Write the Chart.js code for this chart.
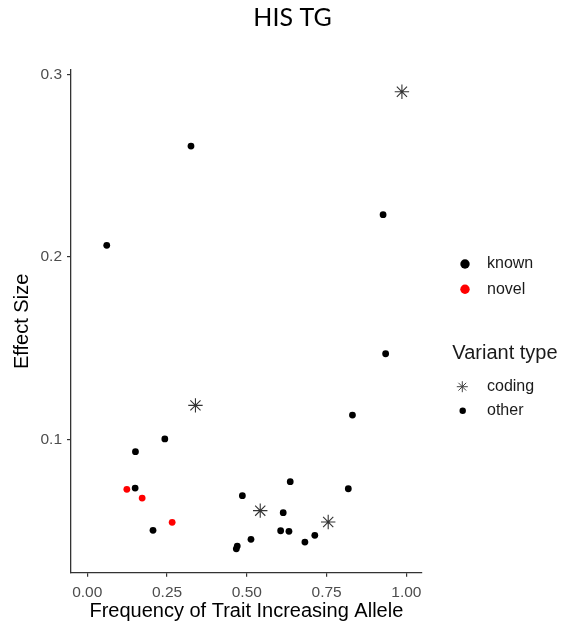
<!DOCTYPE html>
<html>
<head>
<meta charset="utf-8">
<script src="https://cdn.jsdelivr.net/npm/chart.js@4/dist/chart.umd.min.js"></script>
<style>
  body { margin: 0; background: #fff; }
  canvas { display: block; }
</style>
</head>
<body>
<canvas id="chart" width="571" height="629"></canvas>
<script>
// known variants, non-coding
const knownFreq = [0.325, 0.061, 0.927, 0.243, 0.151, 0.935, 0.831, 0.150, 0.206, 0.636,
                   0.818, 0.486, 0.614, 0.606, 0.632, 0.513, 0.713, 0.682, 0.467, 0.470];
const knownEffect = [0.2607, 0.2063, 0.2231, 0.1002, 0.0932, 0.1469, 0.1133, 0.0733, 0.0501, 0.0768,
                     0.0729, 0.0691, 0.0598, 0.0499, 0.0496, 0.0452, 0.0474, 0.0437, 0.0400, 0.0415];

// novel variants, non-coding
const novelFreq = [0.124, 0.172, 0.266];
const novelEffect = [0.0726, 0.0678, 0.0545];

// coding variants (all known)
const codingFreq = [0.986, 0.339, 0.542, 0.755];
const codingEffect = [0.2905, 0.1186, 0.0609, 0.0547];

const xTicks = [0, 0.25, 0.5, 0.75, 1];
const yTicks = [0.1, 0.2, 0.3];

const statusLabels = ['known', 'novel'];
const statusColours = ['#000000', '#ff0000'];
const typeTitle = 'Variant type';
const typeLabels = ['coding', 'other'];

const toPoints = (xs, ys) => xs.map((x, i) => ({ x: x, y: ys[i] }));

const axisFont = '"Liberation Sans", Arial, sans-serif';

// ggplot style legend on the right
const sideLegend = {
    id: 'sideLegend',
    afterDraw(chart) {
        const ctx = chart.ctx;
        const x0 = chart.chartArea.right;
        ctx.save();
        ctx.textBaseline = 'middle';
        ctx.textAlign = 'left';

        statusLabels.forEach((label, i) => {
            const y = 264 + i * 25.3;
            ctx.beginPath();
            ctx.arc(x0 + 43.3, y, 4.7, 0, Math.PI * 2);
            ctx.fillStyle = statusColours[i];
            ctx.fill();
            ctx.fillStyle = '#1a1a1a';
            ctx.font = '16px ' + axisFont;
            ctx.fillText(label, x0 + 65.3, y);
        });

        ctx.fillStyle = '#1a1a1a';
        ctx.font = '20px ' + axisFont;
        ctx.fillText(typeTitle, x0 + 30.6, 353.3);

        typeLabels.forEach((label, i) => {
            const y = 386.7 + i * 24;
            ctx.strokeStyle = '#444';
            ctx.fillStyle = '#000';
            if (label === 'coding') {
                Chart.helpers.drawPoint(ctx, { pointStyle: 'star', radius: 5.5, rotation: 0, borderWidth: 1 }, x0 + 40.6, y);
            } else {
                ctx.beginPath();
                ctx.arc(x0 + 41, y, 3.2, 0, Math.PI * 2);
                ctx.fill();
            }
            ctx.fillStyle = '#1a1a1a';
            ctx.font = '16px ' + axisFont;
            ctx.fillText(label, x0 + 65.3, y);
        });
        ctx.restore();
    }
};

new Chart(document.getElementById('chart'), {
    type: 'scatter',
    data: {
        datasets: [{
            label: 'known',
            data: toPoints(knownFreq, knownEffect),
            pointStyle: 'circle',
            pointRadius: 3.4,
            pointBorderWidth: 0,
            backgroundColor: statusColours[0]
        }, {
            label: 'novel',
            data: toPoints(novelFreq, novelEffect),
            pointStyle: 'circle',
            pointRadius: 3.4,
            pointBorderWidth: 0,
            backgroundColor: statusColours[1]
        }, {
            label: 'coding',
            data: toPoints(codingFreq, codingEffect),
            pointStyle: 'star',
            pointRadius: 7.2,
            pointBorderWidth: 1.1,
            borderColor: '#333'
        }]
    },
    options: {
        responsive: false,
        animation: false,
        events: [],
        layout: { padding: { left: 14, right: 0, top: 0, bottom: 0 } },
        plugins: {
            legend: { display: false },
            tooltip: { enabled: false },
            title: {
                display: true,
                text: 'HIS TG',
                color: '#000',
                font: { family: 'Lato, "Open Sans", sans-serif', size: 25, weight: 'normal', lineHeight: 1.2 },
                padding: { top: 2.5, bottom: 37.5 }
            }
        },
        scales: {
            x: {
                type: 'linear',
                min: -0.051,
                max: 1.048,
                afterBuildTicks: scale => { scale.ticks = xTicks.map(v => ({ value: v })); },
                afterFit: scale => { scale.height = 56.3; },
                ticks: {
                    callback: v => v.toFixed(2),
                    color: '#4d4d4d',
                    font: { family: axisFont, size: 15.5 },
                    padding: 7,
                    maxRotation: 0
                },
                grid: { drawOnChartArea: false, tickLength: 4, color: '#333', lineWidth: 1.2 },
                border: { display: true, color: '#333', width: 1.3 },
                title: {
                    display: true,
                    text: 'Frequency of Trait Increasing Allele',
                    color: '#000',
                    font: { family: axisFont, size: 20, lineHeight: 1.2 },
                    padding: { top: 0, bottom: 5.3 }
                }
            },
            y: {
                type: 'linear',
                min: 0.0269,
                max: 0.3024,
                afterBuildTicks: scale => { scale.ticks = yTicks.map(v => ({ value: v })); },
                afterFit: scale => { scale.width = 57; },
                ticks: {
                    callback: v => v.toFixed(1),
                    color: '#4d4d4d',
                    font: { family: axisFont, size: 15.5 },
                    padding: 5
                },
                grid: { drawOnChartArea: false, tickLength: 4, color: '#333', lineWidth: 1.2 },
                border: { display: true, color: '#333', width: 1.3 },
                title: {
                    display: true,
                    text: 'Effect Size',
                    color: '#000',
                    font: { family: axisFont, size: 20, lineHeight: 0.8 },
                    padding: { top: 0, bottom: 0 }
                }
            },
            // empty axis that keeps room for the legend, so the title centres on the whole canvas
            legendSpace: {
                type: 'linear',
                position: 'right',
                afterFit: scale => { scale.width = 149.3; },
                ticks: { display: false },
                grid: { display: false },
                border: { display: false }
            }
        }
    },
    plugins: [sideLegend]
});
</script>
</body>
</html>
